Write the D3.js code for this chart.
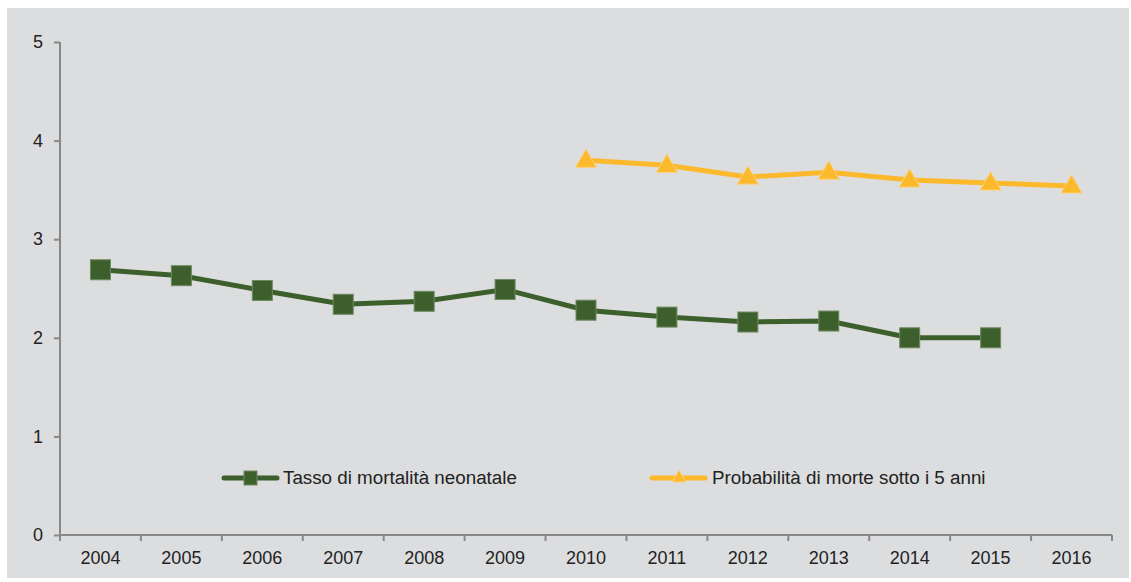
<!DOCTYPE html>
<html>
<head>
<meta charset="utf-8">
<script src="https://cdn.jsdelivr.net/npm/d3@7"></script>
<style>
  body { margin: 0; background: #fff; }
  svg text { font-family: "Liberation Sans", Arial, sans-serif; fill: #222; }
</style>
</head>
<body>
<div id="chart"></div>
<script>
const years = ['2004', '2005', '2006', '2007', '2008', '2009', '2010', '2011', '2012', '2013', '2014', '2015', '2016'];
const neonatalYears = ['2004', '2005', '2006', '2007', '2008', '2009', '2010', '2011', '2012', '2013', '2014', '2015'];
const neonatalValues = [2.69, 2.63, 2.48, 2.34, 2.37, 2.49, 2.28, 2.21, 2.16, 2.17, 2.0, 2.0];
const under5Years = ['2010', '2011', '2012', '2013', '2014', '2015', '2016'];
const under5Values = [3.80, 3.75, 3.63, 3.68, 3.60, 3.57, 3.54];
const yTicks = [0, 1, 2, 3, 4, 5];
const seriesNames = ['Tasso di mortalità neonatale', 'Probabilità di morte sotto i 5 anni'];

const W = 1131, H = 582;
const margin = { left: 60, right: 19, top: 42, bottom: 47 };

const svg = d3.select('#chart').append('svg')
    .attr('width', W)
    .attr('height', H);

svg.append('rect')
    .attr('x', 7).attr('y', 8)
    .attr('width', 1122).attr('height', 570)
    .attr('fill', '#dcdddf');

const x = d3.scaleBand()
    .domain(years)
    .range([margin.left, W - margin.right]);

const y = d3.scaleLinear()
    .domain([0, 5])
    .range([H - margin.bottom, margin.top]);

// x axis with ticks at category boundaries
const xAxis = svg.append('g')
    .attr('transform', `translate(0, ${y(0)})`);
xAxis.append('line')
    .attr('x1', x.range()[0]).attr('x2', x.range()[1])
    .attr('stroke', '#888').attr('stroke-width', 2);
const bounds = years.map(d => x(d)).concat([x.range()[1]]);
xAxis.selectAll('.tk').data(bounds).join('line')
    .attr('x1', d => d).attr('x2', d => d)
    .attr('y1', 0).attr('y2', 6)
    .attr('stroke', '#888').attr('stroke-width', 2);
xAxis.selectAll('text').data(years).join('text')
    .attr('x', d => x(d) + x.bandwidth() / 2)
    .attr('y', 29)
    .attr('text-anchor', 'middle')
    .attr('font-size', '18px')
    .text(d => d);

// y axis
const yAxis = svg.append('g')
    .attr('transform', `translate(${margin.left}, 0)`)
    .call(d3.axisLeft(y).tickValues(yTicks).tickSize(6).tickPadding(11).tickFormat(d3.format('d')));
yAxis.select('.domain').attr('stroke', '#888').attr('stroke-width', 2).attr('d', `M0,${y(5)}V${y(0)}`);
yAxis.selectAll('.tick line').attr('stroke', '#888').attr('stroke-width', 2);
yAxis.selectAll('.tick text').attr('font-size', '18px').attr('font-family', '"Liberation Sans", Arial, sans-serif').attr('fill', '#222');

const cx = d => x(d) + x.bandwidth() / 2;
const line = d3.line().x(d => cx(d[0])).y(d => y(d[1]));

const green = '#3c5f2c';
const yellow = '#fbb92b';

const neo = neonatalYears.map((d, i) => [d, neonatalValues[i]]);
const u5 = under5Years.map((d, i) => [d, under5Values[i]]);

svg.append('path').datum(neo)
    .attr('d', line).attr('fill', 'none')
    .attr('stroke', green).attr('stroke-width', 5);
svg.selectAll('.sq').data(neo).join('rect')
    .attr('x', d => cx(d[0]) - 10).attr('y', d => y(d[1]) - 10)
    .attr('width', 20).attr('height', 20)
    .attr('fill', green).attr('stroke', '#6f8a62').attr('stroke-width', 1);

svg.append('path').datum(u5)
    .attr('d', line).attr('fill', 'none')
    .attr('stroke', yellow).attr('stroke-width', 5);
const tri = d3.symbol().type(d3.symbolTriangle).size(190);
svg.selectAll('.tri').data(u5).join('path')
    .attr('d', tri)
    .attr('transform', d => `translate(${cx(d[0])}, ${y(d[1]) + 1})`)
    .attr('fill', yellow).attr('stroke', '#fdd27a').attr('stroke-width', 1);

// legend
const lg = svg.append('g');
const legendY = 478;
lg.append('line').attr('x1', 224).attr('x2', 277).attr('y1', legendY).attr('y2', legendY)
    .attr('stroke', green).attr('stroke-width', 5).attr('stroke-linecap', 'round');
lg.append('rect').attr('x', 244).attr('y', legendY - 7).attr('width', 13).attr('height', 14)
    .attr('fill', green).attr('stroke', '#6f8a62');
lg.append('text').attr('x', 283).attr('y', legendY + 6).attr('font-size', '18.8px').text(seriesNames[0]);

lg.append('line').attr('x1', 652).attr('x2', 705).attr('y1', legendY).attr('y2', legendY)
    .attr('stroke', yellow).attr('stroke-width', 5).attr('stroke-linecap', 'round');
lg.append('path').attr('d', d3.symbol().type(d3.symbolTriangle).size(80))
    .attr('transform', `translate(679, ${legendY})`)
    .attr('fill', yellow).attr('stroke', '#fdd27a');
lg.append('text').attr('x', 712).attr('y', legendY + 6).attr('font-size', '18.8px').text(seriesNames[1]);
</script>
</body>
</html>
